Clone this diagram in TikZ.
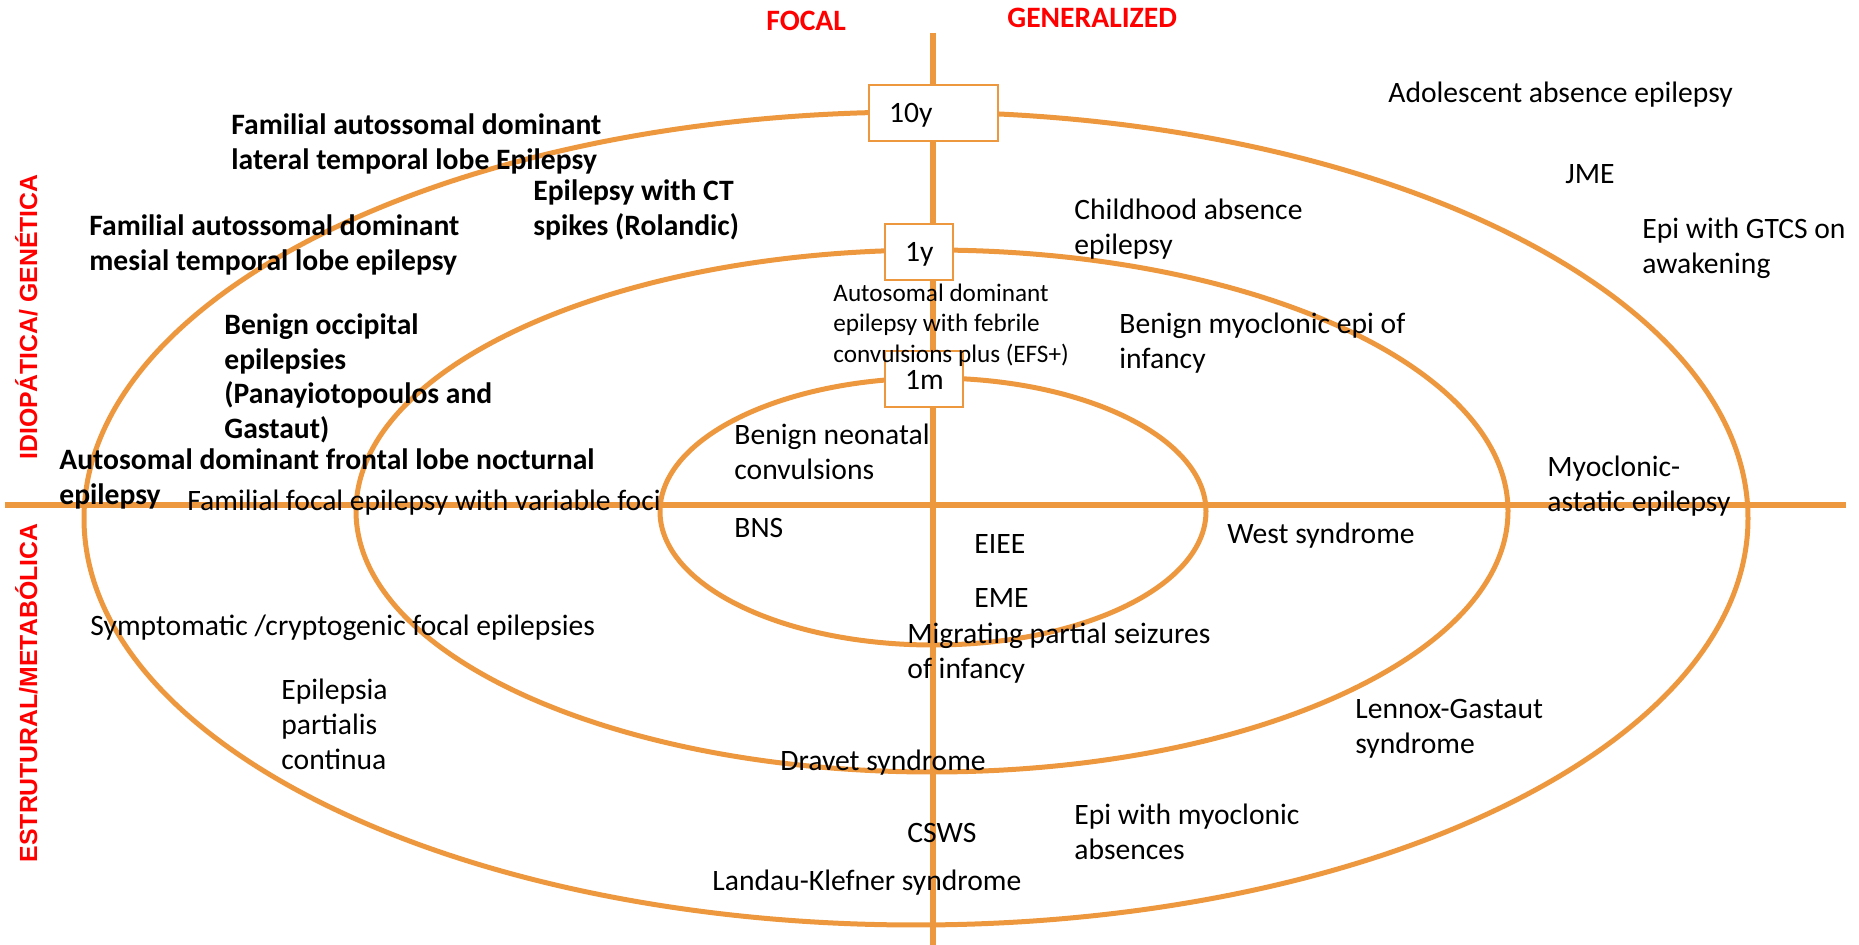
\documentclass[tikz,border=0pt]{standalone}
\usepackage{fontspec}
\setmainfont{Carlito}
\newfontfamily\sidefont{Liberation Sans}
\definecolor{ringorange}{RGB}{237,152,62}
\definecolor{classred}{RGB}{255,0,0}

\tikzset{
  ring/.style={draw=ringorange, line width=2.5pt},
  axisline/.style={draw=ringorange, line width=3pt},
  agebox/.style={draw=ringorange, line width=1pt, fill=white, anchor=west,
    minimum height=28pt, inner xsep=10pt, inner ysep=0pt, align=left,
    text depth=0pt, font=\fontsize{14.8pt}{17.6pt}\selectfont},
  textbase/.style={anchor=north west, inner sep=0pt, align=left,
    execute at begin node=\strut},
  syndrome/.style={textbase, font=\fontsize{14.8pt}{17.6pt}\selectfont, yshift=9.8pt},
  boldsyndrome/.style={textbase, font=\fontsize{14.8pt}{17.3pt}\selectfont\bfseries, yshift=9.8pt},
  smallsyndrome/.style={textbase, font=\fontsize{12.6pt}{15.25pt}\selectfont, yshift=9.2pt},
  typelabel/.style={text=classred, anchor=base west, inner sep=0pt,
    font=\fontsize{14.8pt}{17.6pt}\selectfont\bfseries},
  causelabel/.style={text=classred, rotate=90, anchor=base, inner sep=0pt,
    font=\sidefont\fontsize{12.4pt}{14pt}\selectfont\bfseries}
}

\begin{document}
\begin{tikzpicture}[x=0.5pt,y=-0.5pt]
    \useasboundingbox (0,0) rectangle (1859,945);
    % Axes: focal / generalized and genetic / structural
    \draw[axisline] (5,505) -- (1846,505);
    \draw[axisline] (933,33) -- (933,945);
    % Age rings
    \draw[ring] (916,518.5) ellipse [x radius=416pt, y radius=203.25pt];
    \draw[ring] (932,511) ellipse [x radius=288pt, y radius=130.5pt];
    \draw[ring] (933,511.5) ellipse [x radius=136.5pt, y radius=66.75pt];
    % Age boxes on the vertical axis
    \node[agebox, text width=44.5pt] (tenyears) at (868,113) {10y};
    \node[agebox, text width=14pt] (oneyear) at (884,252) {1y};
    \node[agebox, text width=19pt] (onemonth) at (884,379.5) {1m};
    % Quadrant headings
    \node[typelabel] (focal) at (766,31) {FOCAL};
    \node[typelabel] (generalized) at (1007,28) {GENERALIZED};
    \node[causelabel] (idiogen) at (37,317) {IDIOPÁTICA/ GENÉTICA};
    \node[causelabel] (strumeta) at (37,693) {ESTRUTURAL/METABÓLICA};
    % Genetic focal syndromes
    \node[boldsyndrome] (adltle) at (231,133) {Familial autossomal dominant\\lateral temporal lobe Epilepsy};
    \node[boldsyndrome] (rolandic) at (533,199) {Epilepsy with CT\\spikes (Rolandic)};
    \node[boldsyndrome] (admtle) at (89,234) {Familial autossomal dominant\\mesial temporal lobe epilepsy};
    \node[boldsyndrome] (occipital) at (224,333) {Benign occipital\\epilepsies\\(Panayiotopoulos and\\Gastaut)};
    \node[boldsyndrome] (adnfle) at (59,468) {Autosomal dominant frontal lobe nocturnal\\epilepsy};
    \node[syndrome] (ffevf) at (187,505) {Familial focal epilepsy with variable foci};
    \node[smallsyndrome] (efsplus) at (833,302) {Autosomal dominant\\epilepsy with febrile\\convulsions plus (EFS+)};
    \node[syndrome] (bnc) at (734,443) {Benign neonatal\\convulsions};
    % Genetic generalized syndromes
    \node[syndrome] (adolabs) at (1388,97) {Adolescent absence epilepsy};
    \node[syndrome] (jme) at (1565,178) {JME};
    \node[syndrome] (gtcs) at (1642,237) {Epi with GTCS on\\awakening};
    \node[syndrome] (childabs) at (1074,218) {Childhood absence\\epilepsy};
    \node[syndrome] (bmei) at (1119,332) {Benign myoclonic epi of\\infancy};
    \node[syndrome] (myoastatic) at (1547,475) {Myoclonic-\\astatic epilepsy};
    % Structural syndromes
    \node[syndrome] (bns) at (734,532) {BNS};
    \node[syndrome] (symptomatic) at (90,630) {Symptomatic /cryptogenic focal epilepsies};
    \node[syndrome] (epc) at (281,698) {Epilepsia\\partialis\\continua};
    \node[syndrome] (eiee) at (974,548) {EIEE};
    \node[syndrome] (eme) at (974,602) {EME};
    \node[syndrome] (west) at (1227,538) {West syndrome};
    \node[syndrome] (migrating) at (907,642) {Migrating partial seizures\\of infancy};
    \node[syndrome] (dravet) at (780,765) {Dravet syndrome};
    \node[syndrome] (lennox) at (1355,718) {Lennox-Gastaut\\syndrome};
    \node[syndrome] (csws) at (907,837) {CSWS};
    \node[syndrome] (myoabs) at (1074,823) {Epi with myoclonic\\absences};
    \node[syndrome] (landau) at (712,885) {Landau-Klefner syndrome};
\end{tikzpicture}
\end{document}
